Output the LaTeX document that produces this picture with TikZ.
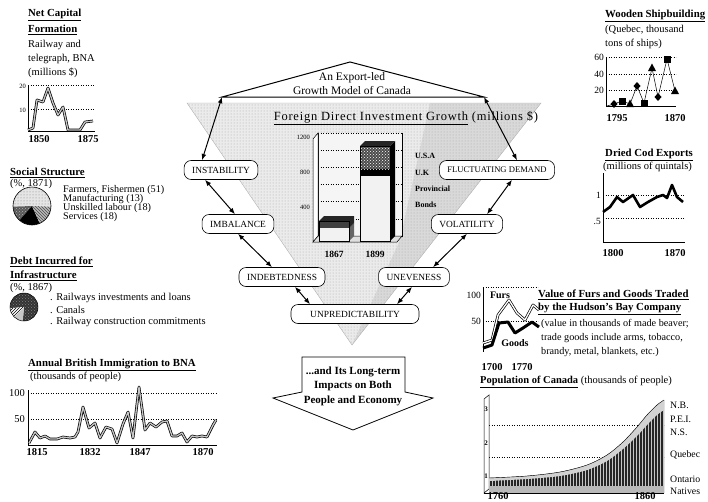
\documentclass[tikz,border=0pt]{standalone}
\usepackage{fontspec}
\setmainfont{Liberation Serif}
\usetikzlibrary{arrows.meta,positioning,patterns}

\begin{document}
\begin{tikzpicture}[x=1pt, y=-1pt,
    stage/.style={draw, rounded corners=7pt, fill=white, minimum height=19pt, inner xsep=8pt, inner ysep=2pt, font=\fontsize{9.4}{10}\selectfont, line width=0.6pt},
    link/.style={{Latex[length=2.2mm,width=1.7mm]}-{Latex[length=2.2mm,width=1.7mm]}, line width=1pt},
    title/.style={anchor=west, inner sep=0pt, font=\fontsize{10.8}{13}\selectfont\bfseries},
    body/.style={anchor=west, inner sep=0pt, font=\fontsize{10.5}{13}\selectfont},
    tick/.style={anchor=east, inner sep=0pt, font=\fontsize{9.5}{10}\selectfont},
    smalltick/.style={anchor=east, inner sep=0pt, font=\fontsize{6.5}{7}\selectfont},
    year/.style={inner sep=0pt, font=\fontsize{10.5}{11}\selectfont\bfseries},
    fdilabel/.style={anchor=west, inner sep=0pt, font=\fontsize{8}{9}\selectfont\bfseries},
    gridline/.style={dotted, line width=0.5pt},
    chartaxis/.style={line width=0.5pt},
    thickseries/.style={line width=2.6pt, line join=round},
    dblseries/.style={line width=0.7pt, double=gray!45, double distance=1.3pt, line join=round}
]
\useasboundingbox (0,0) rectangle (708,501);

% Central inverted triangle
\fill[gray!16] (187,103) -- (541,103) -- (352,345) -- cycle;
\fill[gray!30] (430,103) -- (541,103) -- (352,345) -- (400,240) -- cycle;
\fill[pattern=dots, pattern color=gray!70] (187,103) -- (541,103) -- (352,345) -- cycle;
\draw[gray!60, line width=0.4pt] (187,103) -- (541,103) -- (352,345) -- cycle;

% Roof
\coordinate (roofL) at (222,97);
\coordinate (roofT) at (350,62);
\coordinate (roofR) at (484,97);
\draw[line width=1pt, fill=white] (roofL) -- (roofT) -- (roofR) -- cycle;
\node[align=center, font=\fontsize{11.5}{14}\selectfont] (model) at (352,84) {An Export-led\\Growth Model of Canada};

% FDI bar chart
\node[font=\fontsize{12.5}{14}\selectfont\addfontfeatures{LetterSpace=6}] (fdiTitle) at (406,118) {\underline{Foreign Direct Investment Growth} (millions \$)};
\fill[gray!8] (318,133) rectangle (402,236);
\foreach \v in {200,400,...,1200}
  \draw[gridline] (318,{236-0.0858*\v}) -- (402,{236-0.0858*\v});
\draw[chartaxis] (318,133) -- (318,236) -- (402,236) -- (402,133);
\draw[chartaxis, fill=white] (313,139) -- (318,133) -- (318,236) -- (313,242) -- cycle;
\draw[chartaxis, fill=gray!25] (313,242) -- (318,236) -- (402,236) -- (397,242) -- cycle;
\node[smalltick] (t1200) at (310,137) {1200};
\node[smalltick] (t800) at (310,172) {800};
\node[smalltick] (t400) at (310,207) {400};
% 1867 bar
\fill[gray!10] (319,228) rectangle (349,241);
\fill[black!75] (319,221) rectangle (349,228);
\fill[black!60] (349,228) -- (354,223) -- (354,236) -- (349,241) -- cycle;
\fill[black!85] (319,221) -- (324,216) -- (354,216) -- (354,223) -- (349,228) -- (349,221) -- cycle;
\draw[line width=0.3pt] (319,221) rectangle (349,241);
% 1899 bar
\fill[gray!10] (360,176) rectangle (390,241);
\fill[black] (360,169) rectangle (390,176);
\fill[black!70] (360,146) rectangle (390,169);
\fill[pattern=crosshatch dots, pattern color=white] (360,146) rectangle (390,169);
\fill[black] (390,146) -- (395,141) -- (395,236) -- (390,241) -- cycle;
\fill[black!85] (360,146) -- (365,141) -- (395,141) -- (390,146) -- cycle;
\draw[line width=0.3pt] (360,146) rectangle (390,241);
\node[fdilabel] (usa) at (415,156) {U.S.A};
\node[fdilabel] (uk) at (415,173) {U.K};
\node[fdilabel] (prov) at (415,189) {Provincial};
\node[fdilabel] (bonds) at (415,205) {Bonds};
\node[year, font=\fontsize{9.5}{10}\selectfont\bfseries] (y1867) at (334,254) {1867};
\node[year, font=\fontsize{9.5}{10}\selectfont\bfseries] (y1899) at (375,254) {1899};

% Stages
\node[stage] (instab) at (221,170) {INSTABILITY};
\node[stage, font=\fontsize{8.6}{10}\selectfont] (fluct) at (497,170) {FLUCTUATING DEMAND};
\node[stage] (imbal) at (238,224) {IMBALANCE};
\node[stage] (volat) at (467,224) {VOLATILITY};
\node[stage] (indebt) at (282,277) {INDEBTEDNESS};
\node[stage] (unev) at (414,277) {UNEVENESS};
\node[stage, minimum width=128pt] (unpred) at (355,314) {UNPREDICTABILITY};

% Links
\draw[link] (roofL) -- ([xshift=-19pt]instab.north);
\draw[link] (roofR) -- ([xshift=20pt]fluct.north);
\draw[link] ([xshift=-16pt]instab.south) -- ([xshift=-3pt]imbal.north);
\draw[link] (imbal.south) -- ([xshift=-10pt]indebt.north);
\draw[link] ([xshift=13pt]indebt.south) -- ([xshift=-45pt]unpred.north);
\draw[link] ([xshift=15pt]fluct.south) -- ([xshift=20pt]volat.north);
\draw[link] (volat.south) -- ([xshift=19pt]unev.north);
\draw[link] ([xshift=-2pt]unev.south) -- ([xshift=42pt]unpred.north);

% Down arrow
\draw[line width=0.8pt, fill=white] (302,357) -- (405,357) -- (405,392) -- (433,398) -- (353,430) -- (273,398) -- (302,392) -- cycle;
\node[align=center, font=\fontsize{11}{14.5}\selectfont\bfseries] (impacts) at (353,386) {...and Its Long-term\\Impacts on Both\\People and Economy};

% Net capital formation
\node[title] (ncfA) at (28,15) {\underline{Net Capital}};
\node[title] (ncfB) at (28,30) {\underline{Formation}};
\node[body] (ncfC) at (28,45) {Railway and};
\node[body] (ncfD) at (28,59) {telegraph, BNA};
\node[body] (ncfE) at (28,73) {(millions \$)};
\draw[gridline] (28,85) -- (95,85);
\draw[gridline] (28,109) -- (95,109);
\draw[chartaxis] (28,85) -- (28,131) -- (95,131);
\node[smalltick] (n20) at (26,86) {20};
\node[smalltick] (n10) at (26,110) {10};
\draw[dblseries] (28,130) -- (33,128) -- (37,100) -- (43,102) -- (48,88) -- (53,103) -- (58,115) -- (63,107) -- (68,130) -- (80,130) -- (85,122) -- (93,121);
\node[year] (n1850) at (39,139) {1850};
\node[year] (n1875) at (88,139) {1875};

% Social structure
\node[title] (socA) at (10,173) {\underline{Social Structure}};
\node[body] (socB) at (10,184) {(\%, 1871)};
\fill[gray!20] (32,206) -- +(-2:19pt) arc[start angle=-2, end angle=182, radius=19pt] -- cycle;
\fill[pattern=dots, pattern color=gray] (32,206) -- +(-2:19pt) arc[start angle=-2, end angle=182, radius=19pt] -- cycle;
\fill[black!65] (32,206) -- +(182:19pt) arc[start angle=182, end angle=229, radius=19pt] -- cycle;
\fill[pattern=crosshatch dots, pattern color=gray!60] (32,206) -- +(182:19pt) arc[start angle=182, end angle=229, radius=19pt] -- cycle;
\fill[black] (32,206) -- +(229:19pt) arc[start angle=229, end angle=294, radius=19pt] -- cycle;
\fill[gray!55] (32,206) -- +(294:19pt) arc[start angle=294, end angle=358, radius=19pt] -- cycle;
\fill[pattern=north west lines, pattern color=black!70] (32,206) -- +(294:19pt) arc[start angle=294, end angle=358, radius=19pt] -- cycle;
\draw[line width=0.6pt] (32,206) circle (19pt);
\node[body, font=\fontsize{10.2}{12}\selectfont] (socC) at (63,190) {Farmers, Fishermen (51)};
\node[body, font=\fontsize{10.2}{12}\selectfont] (socD) at (63,199) {Manufacturing (13)};
\node[body, font=\fontsize{10.2}{12}\selectfont] (socE) at (63,208) {Unskilled labour (18)};
\node[body, font=\fontsize{10.2}{12}\selectfont] (socF) at (63,217) {Services (18)};

% Debt for infrastructure
\node[title] (debtA) at (10,262) {\underline{Debt Incurred for}};
\node[title] (debtB) at (10,276) {\underline{Infrastructure}};
\node[body] (debtC) at (10,288) {(\%, 1867)};
\fill[black!80] (24,307) -- +(265:14pt) arc[start angle=265, end angle=545, radius=14pt] -- cycle;
\fill[pattern=crosshatch dots, pattern color=gray] (24,307) -- +(265:14pt) arc[start angle=265, end angle=545, radius=14pt] -- cycle;
\fill[gray!45] (24,307) -- +(225:14pt) arc[start angle=225, end angle=265, radius=14pt] -- cycle;
\fill[white] (24,307) -- +(185:14pt) arc[start angle=185, end angle=225, radius=14pt] -- cycle;
\fill[pattern=north east lines, pattern color=black] (24,307) -- +(185:14pt) arc[start angle=185, end angle=225, radius=14pt] -- cycle;
\draw[line width=0.5pt] (24,307) circle (14pt);
\node[body] (debtD) at (50,298) {. Railways investments and loans};
\node[body] (debtE) at (50,310) {. Canals};
\node[body] (debtF) at (50,322) {. Railway construction commitments};

% British immigration
\node[title] (immA) at (28,365) {\underline{Annual British Immigration to BNA}};
\node[body] (immB) at (30,377) {(thousands of people)};
\draw[gridline] (28,393) -- (217,393);
\draw[gridline] (28,419) -- (217,419);
\draw[chartaxis] (28,390) -- (28,445) -- (217,445);
\node[tick, font=\fontsize{10.5}{11}\selectfont] (i100) at (25,393) {100};
\node[tick, font=\fontsize{10.5}{11}\selectfont] (i50) at (25,419) {50};
\draw[dblseries] (29,443) -- (35,432) -- (40,438) -- (45,436) -- (50,439) -- (57,439) -- (63,437) -- (70,438) -- (75,437) -- (78,432) -- (83,407) -- (89,428) -- (95,423) -- (100,438) -- (106,427) -- (112,429) -- (117,443) -- (123,424) -- (128,412) -- (133,438) -- (139,387) -- (145,430) -- (150,423) -- (156,427) -- (162,422) -- (167,421) -- (172,436) -- (177,436) -- (182,433) -- (187,442) -- (192,436) -- (197,437) -- (202,436) -- (207,437) -- (213,425) -- (216,420);
\node[year] (i1815) at (37,452) {1815};
\node[year] (i1832) at (90,452) {1832};
\node[year] (i1847) at (140,452) {1847};
\node[year] (i1870) at (203,452) {1870};

% Wooden shipbuilding
\node[title] (shipA) at (605,16) {\underline{Wooden Shipbuilding}};
\node[body] (shipB) at (605,30) {(Quebec, thousand};
\node[body] (shipC) at (605,44) {tons of ships)};
\draw[gridline] (606,57) -- (676,57);
\draw[gridline] (606,74) -- (676,74);
\draw[gridline] (606,90) -- (676,90);
\draw[chartaxis] (606,57) -- (606,106) -- (676,106);
\node[tick] (s60) at (604,57) {60};
\node[tick] (s40) at (604,74) {40};
\node[tick] (s20) at (604,90) {20};
\draw[line width=0.5pt] (607,106) -- (614,104) -- (622,101) -- (630,104) -- (637,86) -- (644,103) -- (652,68) -- (658,97) -- (667,59) -- (675,91);
\foreach \x/\y in {614/104, 637/86, 658/97}
  \fill (\x,\y-4) -- (\x+3.5,\y) -- (\x,\y+4) -- (\x-3.5,\y) -- cycle;
\foreach \x/\y in {622/101, 644/103, 667/59}
  \fill (\x-3.5,\y-3.5) rectangle (\x+3.5,\y+3.5);
\foreach \x/\y in {630/104, 652/68, 675/91}
  \fill (\x,\y-4.5) -- (\x+4,\y+3) -- (\x-4,\y+3) -- cycle;
\node[year] (s1795) at (617,118) {1795};
\node[year] (s1870) at (675,118) {1870};

% Dried cod exports
\node[title] (codA) at (605,155) {\underline{Dried Cod Exports}};
\node[body] (codB) at (603,167) {(millions of quintals)};
\draw[gridline] (603,195) -- (685,195);
\draw[gridline] (603,218) -- (685,218);
\draw[chartaxis] (603,173) -- (603,242) -- (685,242);
\node[tick] (c1) at (601,195) {1};
\node[tick] (c5) at (601,221) {.5};
\draw[thickseries] (603,212) -- (610,207) -- (617,197) -- (623,202) -- (633,195) -- (640,207) -- (648,202) -- (657,197) -- (663,195) -- (667,198) -- (672,185) -- (677,197) -- (683,202);
\node[year] (c1800) at (613,253) {1800};
\node[year] (c1870) at (675,253) {1870};

% Furs and goods
\draw[gridline] (483,287) -- (538,287);
\draw[gridline] (483,321) -- (538,321);
\draw[chartaxis] (483,287) -- (483,352);
\node[tick] (f100) at (481,295) {100};
\node[tick] (f50) at (481,321) {50};
\draw[dblseries, double=white] (483,343) -- (492,340) -- (498,315) -- (509,300) -- (517,313) -- (525,320) -- (533,305) -- (539,310);
\draw[thickseries, line width=3pt] (483,348) -- (492,345) -- (499,323) -- (508,322) -- (515,333) -- (523,328) -- (532,322) -- (539,327);
\node[year, font=\fontsize{10}{11}\selectfont\bfseries] (furs) at (500,295) {Furs};
\node[year, font=\fontsize{10}{11}\selectfont\bfseries] (goods) at (515,343) {Goods};
\node[year] (f1700) at (492,367) {1700};
\node[year] (f1770) at (522,367) {1770};
\node[title] (furA) at (538,295) {\underline{Value of Furs and Goods Traded}};
\node[title] (furB) at (538,309) {\underline{by the Hudson's Bay Company}};
\node[body, font=\fontsize{10.2}{12}\selectfont] (furC) at (541,324) {(value in thousands of made beaver;};
\node[body, font=\fontsize{10.2}{12}\selectfont] (furD) at (541,338) {trade goods include arms, tobacco,};
\node[body, font=\fontsize{10.2}{12}\selectfont] (furE) at (541,352) {brandy, metal, blankets, etc.)};

% Population of Canada
\node[body] (popA) at (480,382) {\textbf{\underline{Population of Canada}} (thousands of people)};
\draw[gridline] (489,425) -- (664,425);
\draw[gridline] (489,457) -- (664,457);
\draw[chartaxis, fill=white] (484,399) -- (489,395) -- (489,489) -- (484,493) -- cycle;
\fill[black!85] (489,493) -- plot[smooth] coordinates {(489,478) (527,476) (560,472) (587,465) (607,455) (623,442) (637,427) (647,415) (657,405) (664,400)} -- (664,493) -- cycle;
\fill[pattern=vertical lines, pattern color=gray!45] (489,493) -- plot[smooth] coordinates {(489,478) (527,476) (560,472) (587,465) (607,455) (623,442) (637,427) (647,415) (657,405) (664,400)} -- (664,493) -- cycle;
\fill[gray!35] plot[smooth] coordinates {(489,478) (527,476) (560,472) (587,465) (607,455) (623,442) (637,427) (647,415) (657,405) (664,400)} -- plot[smooth] coordinates {(664,410) (657,415) (647,425) (637,436) (623,449) (607,461) (587,470) (560,476) (527,479) (489,481)} -- cycle;
\draw[line width=0.4pt] plot[smooth] coordinates {(489,478) (527,476) (560,472) (587,465) (607,455) (623,442) (637,427) (647,415) (657,405) (664,400)};
\fill[gray!55] (489,486) rectangle (664,493);
\draw[chartaxis] (484,493) -- (664,493);
\node[smalltick, font=\fontsize{7}{8}\selectfont\bfseries] (p3) at (488,409) {3};
\node[smalltick, font=\fontsize{7}{8}\selectfont\bfseries] (p2) at (488,443) {2};
\node[smalltick, font=\fontsize{7}{8}\selectfont\bfseries] (p1) at (488,476) {1};
\node[year] (p1760) at (498,496) {1760};
\node[year] (p1860) at (645,496) {1860};
\node[body, font=\fontsize{9.8}{11}\selectfont] (nb) at (670,405) {N.B.};
\node[body, font=\fontsize{9.8}{11}\selectfont] (pei) at (670,419) {P.E.I.};
\node[body, font=\fontsize{9.8}{11}\selectfont] (ns) at (670,432) {N.S.};
\node[body, font=\fontsize{9.8}{11}\selectfont] (queb) at (670,455) {Quebec};
\node[body, font=\fontsize{9.8}{11}\selectfont] (ont) at (670,479) {Ontario};
\node[body, font=\fontsize{9.8}{11}\selectfont] (nat) at (670,491) {Natives};

\end{tikzpicture}
\end{document}
